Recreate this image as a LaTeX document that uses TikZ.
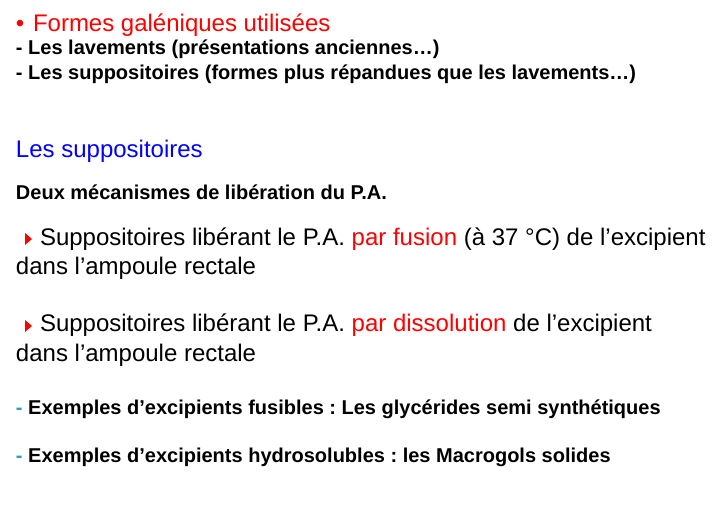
\documentclass[tikz,border=0pt]{standalone}
\usepackage{fontspec}
\setmainfont{Liberation Sans}
\frenchspacing
\definecolor{pred}{RGB}{255,0,0}
\definecolor{pblue}{RGB}{0,0,255}
\definecolor{pteal}{RGB}{40,160,180}
\begin{document}
\begin{tikzpicture}[x=1pt,y=-1pt,
  txt/.style={anchor=base west,inner sep=0pt,outer sep=0pt},
  big/.style={txt,font=\fontsize{24}{28}\selectfont},
  mid/.style={txt,font=\fontsize{20}{24}\selectfont\bfseries},
  tri/.style={fill=pred,draw=none}]
\useasboundingbox[fill=white] (0,0) rectangle (726,510);
% title
\node[big,text=pred] (bul) at (16,32) {•};
\node[big,text=pred] (t1) at (33,32) {Formes galéniques utilisées};
\node[mid] (l2) at (16,55) {- Les lavements (présentations anciennes…)};
\node[mid] (l3) at (16,80) {- Les suppositoires (formes plus répandues que les lavements…)};
% section
\node[big,text=pblue] (sec) at (16,158) {Les suppositoires};
\node[mid] (deux) at (16,200) {Deux mécanismes de libération du P.A.};
% item 1
\fill[tri] (25,233) -- (25,245) -- (32,239) -- cycle;
\node[big] (a1) at (40,246) {Suppositoires libérant le P.A. \textcolor{pred}{par fusion} (à 37 °C) de l’excipient};
\node[big] (a2) at (16,275) {dans l’ampoule rectale};
% item 2
\fill[tri] (25,320) -- (25,332) -- (32,326) -- cycle;
\node[big] (b1) at (40,332) {Suppositoires libérant le P.A. \textcolor{pred}{par dissolution} de l’excipient};
\node[big] (b2) at (16,362) {dans l’ampoule rectale};
% examples
\node[mid] (e1) at (16,415) {\textcolor{pteal}{-} Exemples d’excipients fusibles : Les glycérides semi synthétiques};
\node[mid] (e2) at (16,463) {\textcolor{pteal}{-} Exemples d’excipients hydrosolubles : les Macrogols solides};
\end{tikzpicture}
\end{document}
